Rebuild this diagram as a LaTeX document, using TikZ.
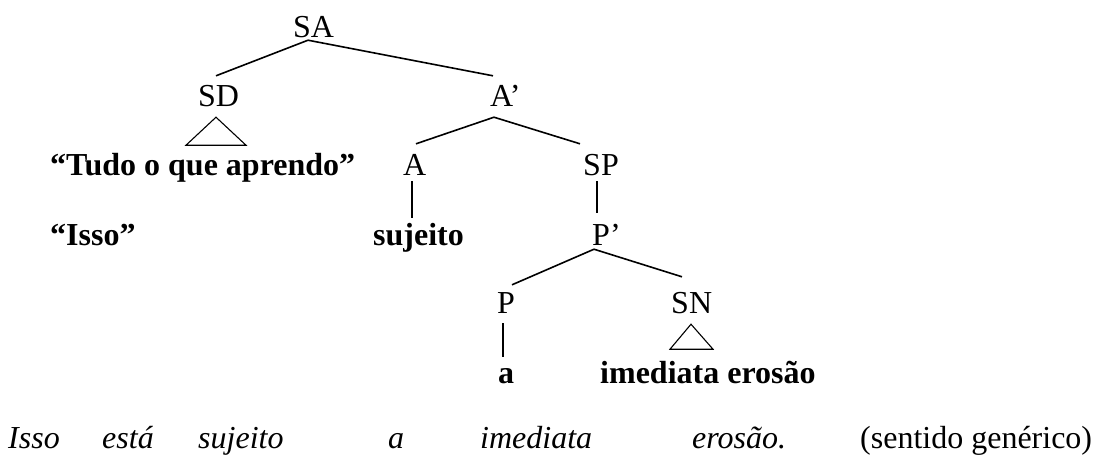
\documentclass[tikz,border=0pt]{standalone}
\usepackage{fontspec}
\setmainfont{Liberation Serif}
\begin{document}
\begin{tikzpicture}[x=1pt,y=-1pt,
  cat/.style={inner sep=0pt, anchor=base west, text height=21.2pt, text depth=0pt,
    font=\fontsize{32}{38}\selectfont},
  word/.style={inner sep=0pt, anchor=base west, text height=22pt, text depth=7pt,
    font=\fontsize{32}{38}\selectfont\bfseries},
  gloss/.style={inner sep=0pt, anchor=base west, font=\fontsize{32}{38}\selectfont\itshape},
  note/.style={inner sep=0pt, anchor=base west, font=\fontsize{32}{38}\selectfont},
  branch/.style={line width=1.6pt},
  roof/.style={line width=1.1pt, line join=miter}]
\fill[white] (0,0) rectangle (1094,456);
\useasboundingbox (0,0) rectangle (1094,456);

% category labels
\node[cat] (SA) at (293,37) {SA};
\node[cat] (SD) at (198,106) {SD};
\node[cat] (Abar) at (490,106) {A’};
\node[cat] (A) at (403,175) {A};
\node[cat] (SP) at (583,175) {SP};
\node[cat] (Pbar) at (592,245) {P’};
\node[cat] (P) at (497,313) {P};
\node[cat] (SN) at (671,313) {SN};

% terminal words
\node[word] (tudo) at (50,175) {“Tudo o que aprendo”};
\node[word] (isso) at (50,245) {“Isso”};
\node[word] (sujeito) at (373,245) {sujeito};
\node[word] (a) at (498,383) {a};
\node[word] (erosao) at (600,383) {imediata erosão};

% gloss line
\node[gloss] (g1) at (8,448) {Isso};
\node[gloss] (g2) at (102,448) {está};
\node[gloss] (g3) at (198,448) {sujeito};
\node[gloss] (g4) at (388,448) {a};
\node[gloss] (g5) at (480,448) {imediata};
\node[gloss] (g6) at (692,448) {erosão.};
\node[note] (g7) at (860,448) {(sentido genérico)};

% branches
\draw[branch] ([xshift=15pt,yshift=-3pt]SA.south west) -- ([xshift=18pt,yshift=8.8pt]SD.north west);
\draw[branch] ([xshift=15pt,yshift=-3pt]SA.south west) -- ([xshift=3pt,yshift=8.8pt]Abar.north west);
\draw[branch] ([xshift=4pt,yshift=-11pt]Abar.south west) -- ([xshift=13pt,yshift=9.8pt]A.north west);
\draw[branch] ([xshift=4pt,yshift=-11pt]Abar.south west) -- ([xshift=-3pt,yshift=9.8pt]SP.north west);
\draw[branch] ([xshift=9pt,yshift=-6pt]A.south west) -- ([xshift=39pt,yshift=5pt]sujeito.north west);
\draw[branch] ([xshift=14pt,yshift=-6pt]SP.south west) -- ([xshift=5pt,yshift=10.8pt]Pbar.north west);
\draw[branch] ([xshift=2pt,yshift=-4pt]Pbar.south west) -- ([xshift=15pt,yshift=6.8pt]P.north west);
\draw[branch] ([xshift=2pt,yshift=-4pt]Pbar.south west) -- ([xshift=11pt,yshift=14.8pt]SN.north west);
\draw[branch] ([xshift=6pt,yshift=-10pt]P.south west) -- ([xshift=5pt,yshift=4pt]a.north west);

% roofs over unanalysed phrases
\draw[roof] ([xshift=18pt,yshift=-11pt]SD.south west) -- ++(-30,28) -- ++(60,0) -- cycle;
\draw[roof] ([xshift=20pt,yshift=-11pt]SN.south west) -- ++(-21,25) -- ++(43,0) -- cycle;
\end{tikzpicture}
\end{document}
